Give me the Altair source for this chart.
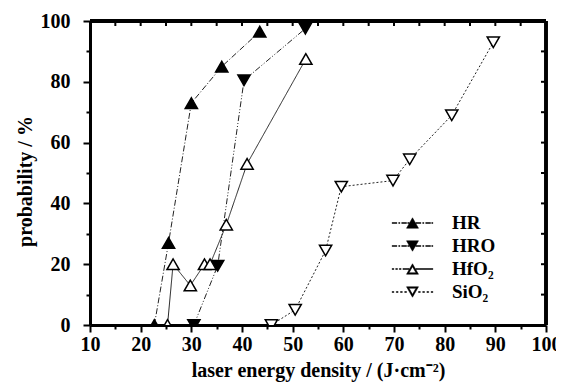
import altair as alt
import pandas as pd

# ---- data ----
series_names = ["HR", "HRO", "HfO₂", "SiO₂"]

hr_x = [22.7, 25.5, 30.0, 36.0, 43.5]
hr_y = [0.0, 27.0, 73.0, 85.0, 96.5]

hro_x = [30.5, 35.2, 40.4, 52.5]
hro_y = [0.0, 19.5, 80.5, 97.5]

hfo2_x = [25.3, 26.4, 29.8, 32.6, 33.7, 36.9, 41.0, 52.6]
hfo2_y = [0.0, 20.0, 13.0, 20.0, 20.0, 33.0, 53.0, 87.5]

sio2_x = [45.8, 50.5, 56.5, 59.6, 69.8, 73.1, 81.4, 89.6]
sio2_y = [0.0, 5.0, 24.5, 45.5, 47.5, 54.5, 69.0, 93.0]

x_min, x_max = 10, 100
y_min, y_max = 0, 100
x_ticks = [10, 15, 20, 25, 30, 35, 40, 45, 50, 55, 60, 65, 70, 75, 80, 85, 90, 95, 100]
y_ticks = [0, 10, 20, 30, 40, 50, 60, 70, 80, 90, 100]

rows = []
for name, xs, ys in zip(series_names, [hr_x, hro_x, hfo2_x, sio2_x], [hr_y, hro_y, hfo2_y, sio2_y]):
    for i, (xv, yv) in enumerate(zip(xs, ys)):
        rows.append({"series": name, "x": xv, "y": yv, "order": i})
df = pd.DataFrame(rows)
xt_df = pd.DataFrame({"t": x_ticks})
yt_df = pd.DataFrame({"t": y_ticks})


# ---- legend glyphs (style only), drawn as filled outlines: marker + dashed line ----
def seg(x0, x1):
    return f"M{x0},-0.08L{x1},-0.08L{x1},0.08L{x0},0.08Z"


def tri(up, filled):
    s = 1 if up else -1
    p = f"M0,{-0.87 * s:.2f}L1,{0.87 * s:.2f}L-1,{0.87 * s:.2f}Z"
    if not filled:  # hole drawn with the opposite winding
        p += f"M0,{-0.37 * s:.2f}L-0.57,{0.62 * s:.2f}L0.57,{0.62 * s:.2f}Z"
    return p


DASHDOT = [(-3.4, -2.6), (-2.3, -2.1), (-1.8, -1.0), (-0.8, -0.55),
           (0.55, 1.4), (1.7, 1.9), (2.2, 3.0), (3.2, 3.4)]
DOTS_SOLID = [(-3.4, -3.1), (-2.8, -2.5), (-2.2, -1.9), (-1.6, -0.55), (0.55, 3.4)]
SPARSE = [(-3.4, -3.1), (-2.7, -2.4), (-2.0, -1.7), (-1.3, -1.0),
          (1.0, 1.3), (1.7, 2.0), (2.4, 2.7), (3.1, 3.4)]


def glyph(pattern, up, filled):
    return "".join(seg(a, b) for a, b in pattern) + tri(up, filled)


legend_glyphs = [
    glyph(DASHDOT, True, True),
    glyph(DASHDOT, False, True),
    glyph(DOTS_SOLID, True, False),
    glyph(SPARSE, False, False),
]

FONT = "Liberation Serif"
xscale = alt.Scale(domain=[x_min, x_max], nice=False, zero=False)
yscale = alt.Scale(domain=[y_min, y_max], nice=False)

x_axis = alt.Axis(
    values=x_ticks, title="laser energy density / (J·cm⁻²)",
    labelExpr="datum.value % 10 === 0 ? datum.label : ''",
    tickSize={"condition": {"test": "datum.value % 10 === 0", "value": 7}, "value": 4},
    tickWidth=2, domainWidth=3, domainColor="black", tickColor="black",
    labelFont=FONT, labelFontSize=20, labelFontWeight="bold", labelColor="black",
    labelPadding=2, titleFont=FONT, titleFontSize=20, titleFontWeight="bold",
    titleColor="black", titlePadding=6, grid=False, labelFlush=False,
)
y_axis = alt.Axis(
    values=y_ticks, title="probability / %",
    labelExpr="datum.value % 20 === 0 ? datum.label : ''",
    tickSize={"condition": {"test": "datum.value % 20 === 0", "value": 7}, "value": 4},
    tickWidth=2, domainWidth=3, domainColor="black", tickColor="black",
    labelFont=FONT, labelFontSize=20, labelFontWeight="bold", labelColor="black",
    labelPadding=13, titleFont=FONT, titleFontSize=20, titleFontWeight="bold",
    titleColor="black", titlePadding=5, titleY=160, grid=False, labelFlush=False,
)

X = alt.X("x:Q", scale=xscale, axis=x_axis)
Y = alt.Y("y:Q", scale=yscale, axis=y_axis)

base = alt.Chart(df)

lines = base.mark_line(strokeWidth=1, color="#222222", clip=True).encode(
    x=X, y=Y,
    detail="series:N",
    order="order:Q",
    strokeDash=alt.StrokeDash(
        "series:N",
        scale=alt.Scale(domain=series_names,
                        range=[[6, 2, 1, 2], [6, 2, 1, 2, 1, 2], [1, 0], [2, 2]]),
        legend=None,
    ),
)

points = base.mark_point(size=150, strokeWidth=1.5, opacity=1, clip=True, stroke="black").encode(
    x=X, y=Y,
    shape=alt.Shape(
        "series:N",
        scale=alt.Scale(domain=series_names,
                        range=["triangle-up", "triangle-down", "triangle-up", "triangle-down"]),
        legend=None,
    ),
    fill=alt.Fill(
        "series:N",
        scale=alt.Scale(domain=series_names, range=["black", "black", "white", "white"]),
        legend=None,
    ),
)

legend_props = dict(
    title=None, orient="none", legendX=313, legendY=192.5,
    symbolSize=144, symbolStrokeWidth=0.5, symbolStrokeColor="black",
    labelFont=FONT, labelFontSize=19, labelFontWeight="bold", labelColor="black",
    rowPadding=3, padding=0, labelOffset=30, labelBaseline="middle",
)

legend_layer = base.transform_filter("false").mark_point(
    size=144, strokeWidth=0.5, opacity=1, filled=True
).encode(
    shape=alt.Shape("series:N", scale=alt.Scale(domain=series_names, range=legend_glyphs),
                    legend=alt.Legend(**legend_props)),
    color=alt.Color("series:N",
                    scale=alt.Scale(domain=series_names, range=["black", "black", "black", "black"]),
                    legend=alt.Legend(**legend_props)),
)

inner = alt.layer(lines, points, legend_layer).resolve_scale(
    shape="independent", fill="independent", color="independent"
)

# box frame on top / right with inward ticks
top_rule = alt.Chart(xt_df).mark_rule(color="black", strokeWidth=2.5).encode(
    x=alt.X(datum=x_min, scale=xscale, axis=x_axis),
    x2=alt.X2(datum=x_max),
    y=alt.Y(datum=y_max, scale=yscale, axis=y_axis),
)
right_rule = alt.Chart(yt_df).mark_rule(color="black", strokeWidth=2.5).encode(
    x=alt.X(datum=x_max, scale=xscale, axis=x_axis),
    y=alt.Y(datum=y_min, scale=yscale, axis=y_axis),
    y2=alt.Y2(datum=y_max),
)
top_ticks = alt.Chart(xt_df).mark_tick(
    orient="vertical", size=5, thickness=2, yOffset=2.5, color="black", opacity=1
).encode(
    x=alt.X("t:Q", scale=xscale, axis=x_axis),
    y=alt.Y(datum=y_max, scale=yscale, axis=y_axis),
)
right_ticks = alt.Chart(yt_df).mark_tick(
    orient="horizontal", size=5, thickness=2, xOffset=-2.5, color="black", opacity=1
).encode(
    x=alt.X(datum=x_max, scale=xscale, axis=x_axis),
    y=alt.Y("t:Q", scale=yscale, axis=y_axis),
)

chart = (
    alt.layer(inner, top_rule, right_rule, top_ticks, right_ticks)
    .properties(
        width=456, height=304,
        autosize="none",
        padding={"left": 82, "top": 13, "right": 10, "bottom": 60},
        background="white",
    )
    .configure_view(stroke=None)
)

chart.save("out.html", embed_options={"renderer": "svg", "actions": False})
